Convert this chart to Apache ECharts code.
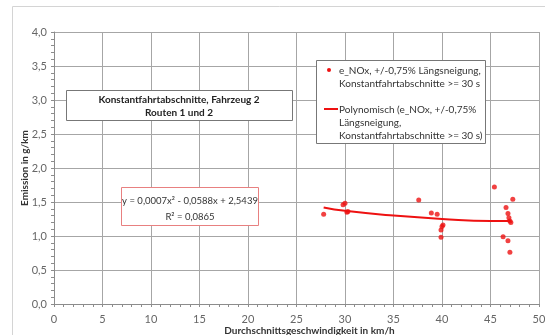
<!DOCTYPE html>
<html>
<head>
<meta charset="utf-8">
<script src="https://cdn.jsdelivr.net/npm/echarts@6/dist/echarts.min.js"></script>
<style>
  html, body { margin: 0; padding: 0; background: #fff; }
  #chart { width: 545px; height: 335px; }
</style>
</head>
<body>
<div id="chart"></div>
<script>
// Messpunkte: Durchschnittsgeschwindigkeit [km/h] / Emission [g/km]
const speed = [27.8, 29.8, 30.0, 30.2, 30.3, 37.6, 38.9, 39.5, 40.1, 40.0, 39.9, 39.9,
  45.4, 47.3, 46.6, 46.8, 46.9, 47.0, 47.1, 46.3, 46.8, 47.0];
const emission = [1.32, 1.46, 1.48, 1.35, 1.36, 1.53, 1.34, 1.32, 1.16, 1.14, 1.09, 0.98,
  1.72, 1.54, 1.42, 1.33, 1.27, 1.22, 1.20, 0.99, 0.93, 0.76];

// Trendlinie
const trendX = [27.8, 30, 35, 40, 45, 47.1];
const trendY = [1.42, 1.37, 1.30, 1.25, 1.22, 1.22];

const xTicks = [0, 5, 10, 15, 20, 25, 30, 35, 40, 45, 50];
const yTicks = [0, 0.5, 1, 1.5, 2, 2.5, 3, 3.5, 4];

const font = "Lato";
const red = "#ee1111";

const chart = echarts.init(document.getElementById("chart"));

const fmtComma = (v) => v.toFixed(1).replace(".", ",");

// Hilfsfunktion fuer Texte in den Boxen
const txt = (x, y, text, opts) => Object.assign({
  type: "text", x: x, y: y, z: 101, silent: true,
  style: Object.assign({ text: text, fontFamily: font, fontSize: 10, fill: "#333", lineHeight: 13 }, opts || {})
});
const box = (x, y, w, h, stroke) => ({
  type: "rect", z: 100, silent: true,
  shape: { x: x, y: y, width: w, height: h },
  style: { fill: "#fff", stroke: stroke, lineWidth: 1 }
});

chart.setOption({
  animation: false,
  textStyle: { fontFamily: font },
  grid: { left: 54, top: 32, right: 6, bottom: 31, outerBoundsMode: "none", containLabel: false },
  xAxis: {
    type: "value",
    min: xTicks[0],
    max: xTicks[xTicks.length - 1],
    interval: 5,
    name: "Durchschnittsgeschwindigkeit in km/h",
    nameLocation: "middle",
    nameGap: 22,
    nameMoveOverlap: false,
    nameTextStyle: { fontWeight: "bold", fontSize: 10, color: "#333", padding: [0, 0, 0, 26] },
    axisLine: { lineStyle: { color: "#8c8c8c" } },
    axisTick: { show: true, length: 3, lineStyle: { color: "#8c8c8c" } },
    minorTick: { show: true, splitNumber: 5, length: 3, lineStyle: { color: "#8c8c8c" } },
    axisLabel: { color: "#666", fontSize: 11, margin: 10 },
    splitLine: { show: true, lineStyle: { color: "#a6a6a6" } }
  },
  yAxis: {
    type: "value",
    min: yTicks[0],
    max: yTicks[yTicks.length - 1],
    interval: 0.5,
    name: "Emission in g/km",
    nameLocation: "middle",
    nameGap: 24,
    nameMoveOverlap: false,
    nameTextStyle: { fontWeight: "bold", fontSize: 10, color: "#333" },
    axisLine: { show: true, lineStyle: { color: "#8c8c8c" } },
    axisTick: { show: true, length: 3, lineStyle: { color: "#8c8c8c" } },
    minorTick: { show: true, splitNumber: 5, length: 3, lineStyle: { color: "#8c8c8c" } },
    axisLabel: { color: "#666", fontSize: 11, margin: 7, formatter: fmtComma },
    splitLine: { show: true, lineStyle: { color: "#a6a6a6" } }
  },
  series: [
    {
      name: "e_NOx",
      type: "scatter",
      symbol: "circle",
      symbolSize: 5,
      itemStyle: { color: red },
      data: speed.map((x, i) => [x, emission[i]]),
      z: 3
    },
    {
      name: "Polynomisch",
      type: "line",
      smooth: true,
      showSymbol: false,
      lineStyle: { color: red, width: 2 },
      data: trendX.map((x, i) => [x, trendY[i]]),
      z: 2
    }
  ],
  graphic: [
    // Rahmen Diagrammbereich
    {
      type: "rect", z: -10, silent: true,
      shape: { x: 12.5, y: 6.5, width: 620, height: 420 },
      style: { fill: "none", stroke: "#d4d4d4", lineWidth: 1 }
    },
    // Titelbox
    box(66.5, 90.5, 226, 30, "#777"),
    txt(179, 93, "Konstantfahrtabschnitte, Fahrzeug 2\nRouten 1 und 2",
      { fontWeight: "bold", fontSize: 10, textAlign: "center", lineHeight: 13, fill: "#222" }),
    // Gleichungsbox
    box(121.5, 187.5, 137, 38, "#e88080"),
    txt(190, 194, "y = 0,0007x² - 0,0588x + 2,5439", { textAlign: "center", fontSize: 9.5 }),
    txt(190, 210, "R² = 0,0865", { textAlign: "center", fontSize: 9.5 }),
    // Legende
    box(316.5, 60.5, 169, 83, "#777"),
    { type: "circle", z: 101, silent: true, shape: { cx: 329, cy: 70, r: 2 }, style: { fill: red } },
    txt(339, 64, "e_NOx, +/-0,75% Längsneigung,\nKonstantfahrtabschnitte >= 30 s"),
    { type: "line", z: 101, silent: true, shape: { x1: 324, y1: 109, x2: 338, y2: 109 }, style: { stroke: red, lineWidth: 2 } },
    txt(339, 103, "Polynomisch (e_NOx, +/-0,75%\nLängsneigung,\nKonstantfahrtabschnitte >= 30 s)")
  ]
});
</script>
</body>
</html>
